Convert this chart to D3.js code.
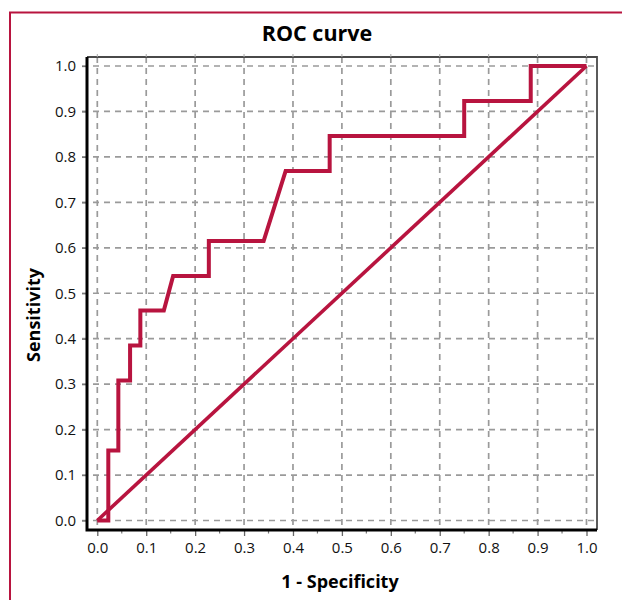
<!DOCTYPE html>
<html>
<head>
<meta charset="utf-8">
<script src="https://cdn.jsdelivr.net/npm/d3@7"></script>
<style>
  body { margin: 0; background: #fff; }
  text { font-family: "Open Sans", "Noto Sans", sans-serif; }
</style>
</head>
<body>
<div id="chart"></div>
<script>
// ROC curve (1 - specificity, sensitivity)
const fpr = [0, 0.0225, 0.0225, 0.043, 0.043, 0.067, 0.067, 0.088, 0.088, 0.136, 0.155, 0.228, 0.228, 0.34, 0.385, 0.475, 0.475, 0.75, 0.75, 0.886, 0.886, 1];
const tpr = [0, 0, 0.154, 0.154, 0.308, 0.308, 0.385, 0.385, 0.462, 0.462, 0.538, 0.538, 0.615, 0.615, 0.769, 0.769, 0.846, 0.846, 0.923, 0.923, 1, 1];
const refLine = [[0, 0], [1, 1]];
const tickVals = [0, 0.1, 0.2, 0.3, 0.4, 0.5, 0.6, 0.7, 0.8, 0.9, 1.0];
const minorTicks = [0.05, 0.15, 0.25, 0.35, 0.45, 0.55, 0.65, 0.75, 0.85, 0.95];

const red = "#b8143f";
const W = 622, H = 600;

const svg = d3.select("#chart").append("svg")
    .attr("width", W)
    .attr("height", H);

// outer frame (open on right and bottom)
svg.append("rect")
    .attr("x", 10).attr("y", 12.5)
    .attr("width", 700).attr("height", 700)
    .attr("fill", "none")
    .attr("stroke", red)
    .attr("stroke-width", 2);

const x = d3.scaleLinear().domain([0, 1]).range([97.3, 586.5]);
const y = d3.scaleLinear().domain([0, 1]).range([520.5, 66]);

const fL = 87, fR = 597, fT = 57, fB = 530;

// grid
const grid = svg.append("g")
    .attr("stroke", "#9a9a9a")
    .attr("stroke-width", 1.7)
    .attr("stroke-dasharray", "6,5");

grid.selectAll(".gx").data(tickVals).enter().append("line")
    .attr("x1", d => x(d)).attr("x2", d => x(d))
    .attr("y1", fT).attr("y2", fB);

grid.selectAll(".gy").data(tickVals).enter().append("line")
    .attr("x1", fL - 5).attr("x2", fR)
    .attr("y1", d => y(d)).attr("y2", d => y(d));

// top/right frame
svg.append("path")
    .attr("d", `M${fL},${fT}H${fR}V${fB}`)
    .attr("fill", "none")
    .attr("stroke", "#4a4a4a")
    .attr("stroke-width", 1.8);

// small ticks on top frame
svg.selectAll(".tt").data(tickVals).enter().append("line")
    .attr("x1", d => x(d)).attr("x2", d => x(d))
    .attr("y1", fT).attr("y2", fT - 3)
    .attr("stroke", "#aaa").attr("stroke-width", 1);

// x axis
const xAxis = svg.append("g")
    .attr("transform", `translate(0,${fB})`)
    .call(d3.axisBottom(x).tickValues(tickVals).tickFormat(d3.format(".1f")).tickSize(6).tickSizeOuter(0));
xAxis.select(".domain").remove();
xAxis.selectAll(".tick line").attr("stroke", "#666").attr("stroke-width", 1.3);
xAxis.selectAll(".tick text")
    .attr("font-size", 15)
    .attr("fill", "#111")
    .attr("dy", "0.92em");

svg.selectAll(".mt").data(minorTicks).enter().append("line")
    .attr("x1", d => x(d)).attr("x2", d => x(d))
    .attr("y1", fB).attr("y2", fB + 3.5)
    .attr("stroke", "#777").attr("stroke-width", 1.2);

// y axis
const yAxis = svg.append("g")
    .attr("transform", `translate(${fL},0)`)
    .call(d3.axisLeft(y).tickValues(tickVals).tickFormat(d3.format(".1f")).tickSize(5).tickSizeOuter(0));
yAxis.select(".domain").remove();
yAxis.selectAll(".tick line").attr("stroke", "#777").attr("stroke-width", 1.3);
yAxis.selectAll(".tick text")
    .attr("font-size", 15)
    .attr("fill", "#111")
    .attr("x", -11);

// thick left and bottom axis lines
svg.append("path")
    .attr("d", `M${fL},${fT}V${fB}H${fR}`)
    .attr("fill", "none")
    .attr("stroke", "#000")
    .attr("stroke-width", 3);

// curves
const line = d3.line().x(d => x(d[0])).y(d => y(d[1]));

svg.append("path")
    .datum(refLine)
    .attr("d", line)
    .attr("fill", "none")
    .attr("stroke", red)
    .attr("stroke-width", 3.6);

svg.append("path")
    .datum(fpr.map((f, i) => [f, tpr[i]]))
    .attr("d", line)
    .attr("fill", "none")
    .attr("stroke", red)
    .attr("stroke-width", 4)
    .attr("stroke-linejoin", "miter");

// titles
svg.append("text")
    .attr("x", 317).attr("y", 41)
    .attr("text-anchor", "middle")
    .attr("font-size", 21.5)
    .attr("font-weight", "bold")
    .text("ROC curve");

svg.append("text")
    .attr("x", 340).attr("y", 588)
    .attr("text-anchor", "middle")
    .attr("font-size", 18)
    .attr("font-weight", "bold")
    .text("1 - Specificity");

svg.append("text")
    .attr("transform", "translate(40,315) rotate(-90)")
    .attr("text-anchor", "middle")
    .attr("font-size", 18)
    .attr("font-weight", "bold")
    .text("Sensitivity");
</script>
</body>
</html>
